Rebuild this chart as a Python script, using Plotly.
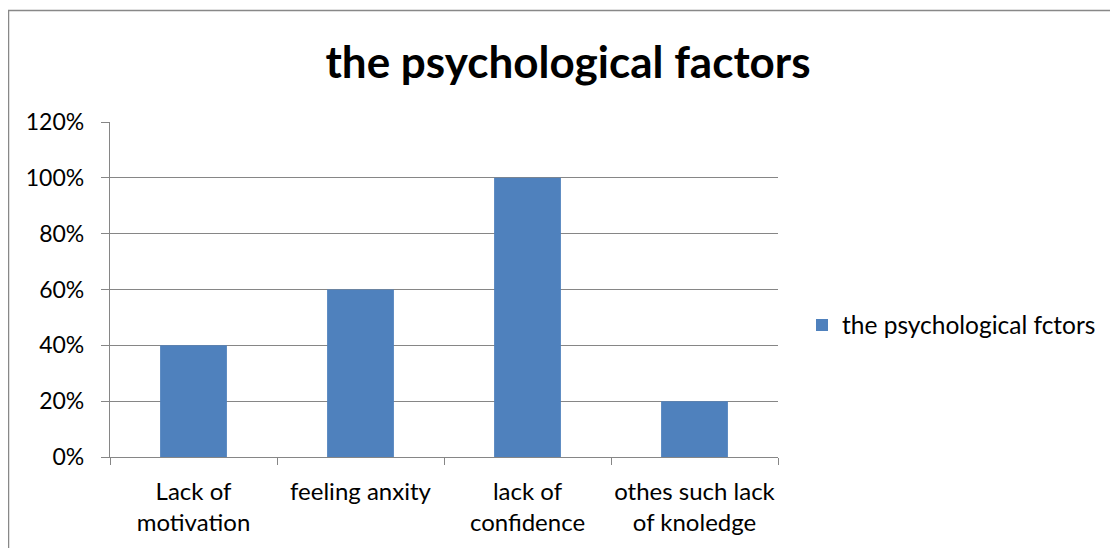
import plotly.graph_objects as go

categories = ["Lack of<br>motivation", "feeling anxity", "lack of<br>confidence", "othes such lack<br>of knoledge"]
values = [0.40, 0.60, 1.00, 0.20]
series_name = "the psychological fctors"
title_text = "the psychological factors"
y_ticks = [0, 0.2, 0.4, 0.6, 0.8, 1.0, 1.2]
y_labels = ["0%", "20%", "40%", "60%", "80%", "100%", "120%"]

OFF = 8  # default page body margin
W, H = 1118 - OFF, 548 - OFF
L, T = 110 - OFF, 122 - OFF
pw, ph = 668, 335
R, B = W - L - pw, H - T - ph

FONT = "Lato"
GRID = "#868686"

def px(x):
    return (x - OFF - L) / pw

def py(y):
    return (T + ph - (y - OFF)) / ph

fig = go.Figure()
fig.add_trace(go.Bar(
    x=categories, y=values, name=series_name,
    marker=dict(color="#4F81BD", line=dict(width=0)),
    showlegend=True,
))

fig.update_layout(
    width=W, height=H,
    margin=dict(l=L, r=R, t=T, b=B, autoexpand=False),
    paper_bgcolor="white", plot_bgcolor="white",
    font=dict(family=FONT, size=24, color="black"),
    bargap=0.6,
    title=dict(text="<b>" + title_text + "</b>", x=(568 - OFF) / W, xanchor="center",
               y=1 - (63 - OFF) / H, yanchor="middle", yref="container",
               font=dict(family=FONT, size=44, color="black")),
    showlegend=True,
    legend=dict(x=px(802), xanchor="left", y=py(325), yanchor="middle",
                font=dict(family=FONT, size=24.5, color="black"),
                bgcolor="rgba(0,0,0,0)", itemwidth=30),
    xaxis=dict(showline=True, linecolor=GRID, linewidth=1.3, ticks="outside",
               tickson="boundaries", ticklen=7, tickcolor=GRID, tickwidth=1.3,
               showgrid=False, tickfont=dict(family=FONT, size=24, color="black"),
               tickangle=0, ticklabelstandoff=13, fixedrange=True),
    yaxis=dict(range=[0, 1.2], tickvals=y_ticks, ticktext=y_labels,
               showline=True, linecolor=GRID, linewidth=1.3, ticks="outside",
               ticklen=8, tickcolor=GRID, tickwidth=1.3,
               showgrid=True, gridcolor=GRID, gridwidth=1.3,
               zeroline=False, tickfont=dict(family=FONT, size=23, color="black"),
               ticklabelstandoff=12, fixedrange=True),
    shapes=[dict(type="rect", xref="paper", yref="paper",
                 x0=px(8.5), x1=px(1140),
                 y0=py(570), y1=py(10.5),
                 line=dict(color="#888888", width=1.5), fillcolor="rgba(0,0,0,0)",
                 layer="below")],
)

fig.write_html("out.html")
